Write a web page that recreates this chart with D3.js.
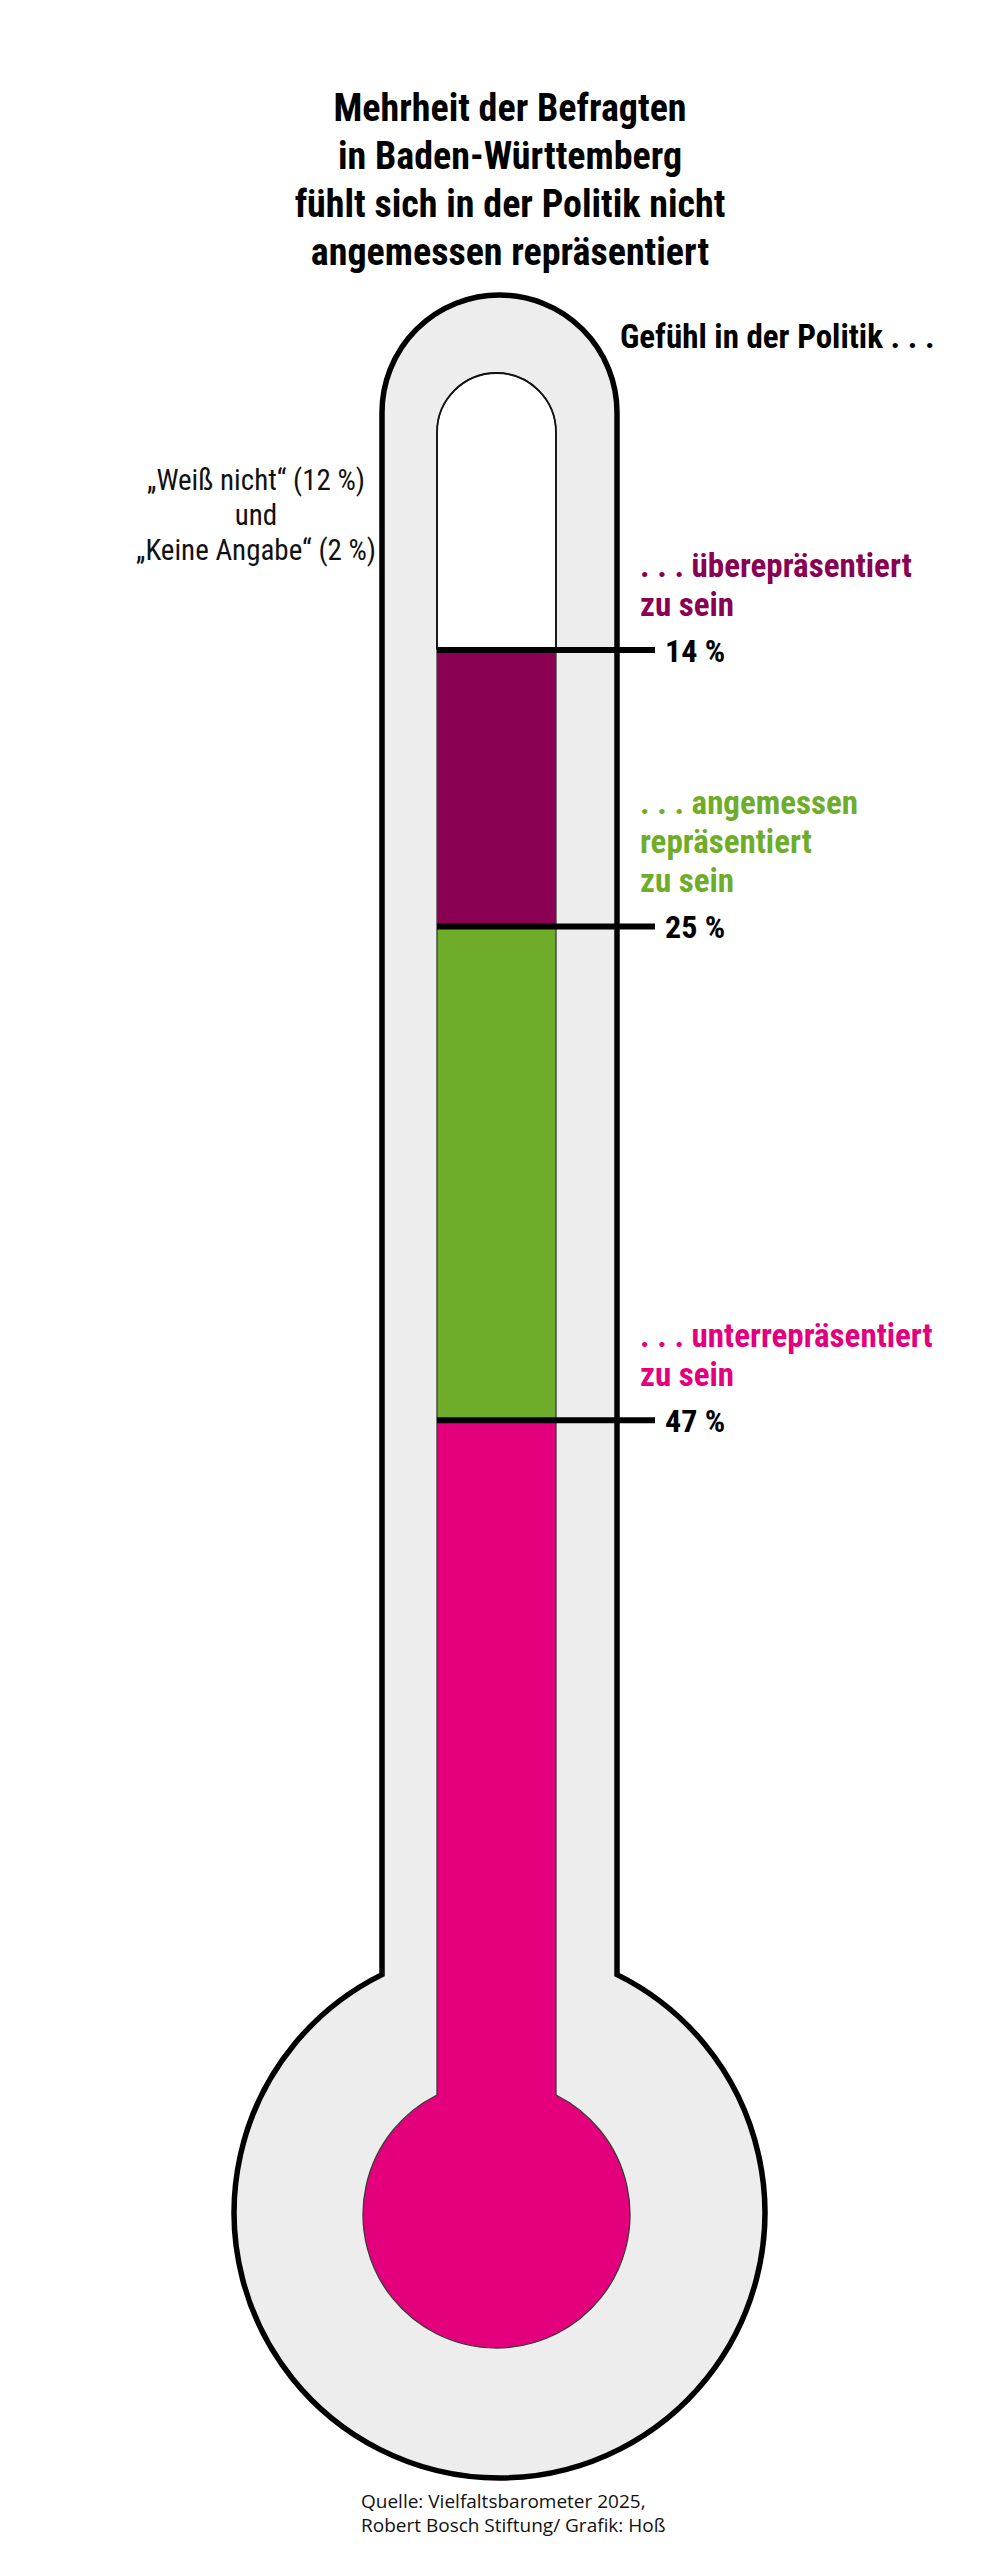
<!DOCTYPE html>
<html>
<head>
<meta charset="utf-8">
<script src="https://cdn.jsdelivr.net/npm/d3@7"></script>
<style>
  html, body { margin: 0; padding: 0; background: #fff; }
  svg { display: block; }
  .cond { font-family: "Liberation Sans Narrow", "Roboto Condensed", "DejaVu Sans Condensed", sans-serif; }
</style>
</head>
<body>
<div id="chart"></div>
<script>
// ---------------- DATA ----------------
const categories = ["Weiß nicht / Keine Angabe", "überrepräsentiert", "angemessen repräsentiert", "unterrepräsentiert"];
const values = [14, 14, 25, 47];           // percent, stacked from the top of the tube
const categoryLabels = [
  null,
  [". . . überepräsentiert", "zu sein"],
  [". . . angemessen", "repräsentiert", "zu sein"],
  [". . . unterrepräsentiert", "zu sein"]
];
const noteLines = ["„Weiß nicht“ (12 %)", "und", "„Keine Angabe“ (2 %)"];
const titleLines = ["Mehrheit der Befragten", "in Baden-Württemberg", "fühlt sich in der Politik nicht", "angemessen repräsentiert"];
const subtitle = "Gefühl in der Politik . . .";
const sourceLines = ["Quelle: Vielfaltsbarometer 2025,", "Robert Bosch Stiftung/ Grafik: Hoß"];

// ---------------- LAYOUT / STYLE ----------------
const W = 989, H = 2560;
const palette = ["#ffffff", "#8a0052", "#6fac2a", "#e4007d"];
const color = d3.scaleOrdinal().domain(categories).range(palette);

const svg = d3.select("#chart").append("svg").attr("width", W).attr("height", H);
svg.append("rect").attr("width", W).attr("height", H).attr("fill", "#fff");

// inner tube geometry
const tubeL = 437, tubeR = 556, tubeCx = (tubeL + tubeR) / 2, tubeRad = (tubeR - tubeL) / 2;
const innerTop = 373, innerBottom = 2348;
const bulbR = 133.5, bulbCy = innerBottom - bulbR;
const y = d3.scaleLinear().domain([0, 100]).range([innerTop, innerBottom]);

// outer body geometry
const outL = 382, outR = 617, outRad = (outR - outL) / 2;
const outTop = 295, outBottom = 2478, outBulbR = 265.4, outBulbCy = outBottom - outBulbR;
const outNeckY = outBulbCy - Math.sqrt(outBulbR * outBulbR - outRad * outRad);
const outerPath = `M${outL},${outNeckY} L${outL},${outTop + outRad} A${outRad},${outRad} 0 0 1 ${outR},${outTop + outRad} L${outR},${outNeckY} A${outBulbR},${outBulbR} 0 1 1 ${outL},${outNeckY} Z`;

svg.append("path").attr("d", outerPath).attr("fill", "#ededed").attr("stroke", "#000").attr("stroke-width", 5.5);

const neckY = bulbCy - Math.sqrt(bulbR * bulbR - tubeRad * tubeRad);
const innerPath = `M${tubeL},${neckY} L${tubeL},${innerTop + tubeRad} A${tubeRad},${tubeRad} 0 0 1 ${tubeR},${innerTop + tubeRad} L${tubeR},${neckY} A${bulbR},${bulbR} 0 1 1 ${tubeL},${neckY} Z`;

svg.append("clipPath").attr("id", "innerClip").append("path").attr("d", innerPath);

// stacked segments
let acc = 0;
const segs = values.map((v, i) => { const s = { cat: categories[i], v, y0: acc, y1: acc + v, i }; acc += v; return s; });

svg.append("g").attr("clip-path", "url(#innerClip)")
  .selectAll("rect").data(segs).join("rect")
  .attr("x", tubeCx - bulbR - 2)
  .attr("width", 2 * bulbR + 4)
  .attr("y", d => y(d.y0))
  .attr("height", d => y(d.y1) - y(d.y0) + (d.i === segs.length - 1 ? 5 : 0))
  .attr("fill", d => color(d.cat));

svg.append("path").attr("d", innerPath).attr("fill", "none").attr("stroke", "#3a3a3a").attr("stroke-width", 1.3);
// darker outline around the empty (white) part
svg.append("path")
  .attr("d", `M${tubeL},${y(segs[1].y0)} L${tubeL},${innerTop + tubeRad} A${tubeRad},${tubeRad} 0 0 1 ${tubeR},${innerTop + tubeRad} L${tubeR},${y(segs[1].y0)}`)
  .attr("fill", "none").attr("stroke", "#111").attr("stroke-width", 1.8);

// axis with ticks at segment tops, labelled with segment values
const tickSegs = segs.slice(1);
const axis = d3.axisRight(y)
  .tickValues(tickSegs.map(d => d.y0))
  .tickFormat((d, i) => tickSegs[i].v + " %")
  .tickSize(218)
  .tickPadding(10);

const ax = svg.append("g").attr("transform", `translate(${tubeL},0)`).call(axis);
ax.select(".domain").remove();
ax.selectAll(".tick line").attr("stroke", "#000").attr("stroke-width", 6);
ax.selectAll(".tick text")
  .attr("class", "cond")
  .attr("fill", "#000")
  .attr("font-size", 32).attr("font-weight", "bold")
  .attr("dy", "0.36em");

// category labels above each tick
const labX = 640;
tickSegs.forEach(s => {
  const lines = categoryLabels[s.i];
  const base = y(s.y0) - 34;
  const t = svg.append("text").attr("class", "cond")
    .attr("font-size", 33).attr("font-weight", "bold").attr("fill", color(s.cat));
  lines.forEach((ln, k) => {
    t.append("tspan").attr("x", labX).attr("y", base - (lines.length - 1 - k) * 39).text(ln);
  });
});

// title
const title = svg.append("text").attr("class", "cond")
  .attr("text-anchor", "middle").attr("font-size", 38).attr("font-weight", "bold").attr("fill", "#000");
titleLines.forEach((ln, k) => title.append("tspan").attr("x", 510).attr("y", 121 + k * 48).text(ln));

// subtitle
svg.append("text").attr("class", "cond")
  .attr("x", 620).attr("y", 348).attr("font-size", 33).attr("font-weight", "bold").attr("fill", "#000")
  .text(subtitle);

// note for the empty part
const note = svg.append("text").attr("class", "cond")
  .attr("text-anchor", "middle").attr("font-size", 29).attr("fill", "#111");
noteLines.forEach((ln, k) => note.append("tspan").attr("x", 256).attr("y", 490 + k * 35).text(ln));

// source
const src = svg.append("text")
  .attr("font-family", "'Open Sans', 'Noto Sans', sans-serif")
  .attr("font-size", 19).attr("fill", "#111");
sourceLines.forEach((ln, k) => src.append("tspan").attr("x", 361).attr("y", 2508 + k * 24).text(ln));
</script>
</body>
</html>
